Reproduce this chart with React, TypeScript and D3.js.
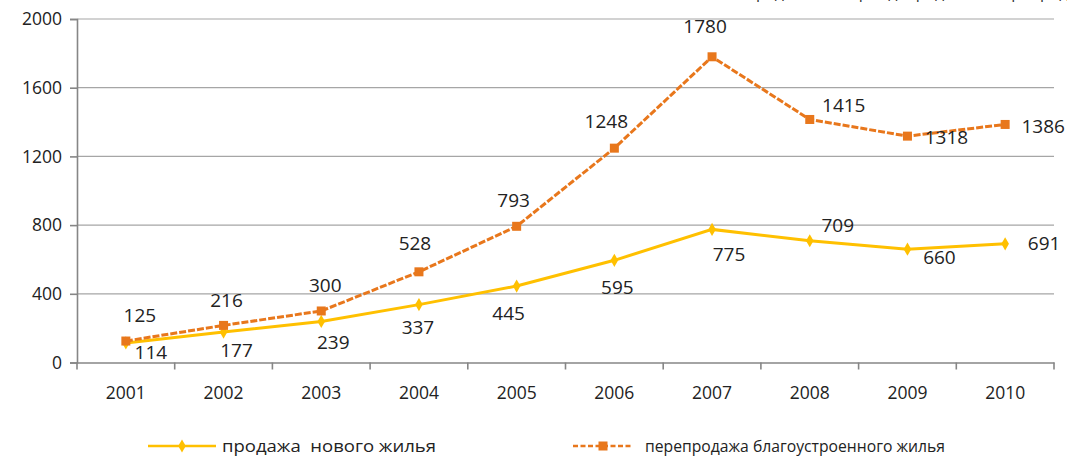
import { useEffect, useRef } from 'react'
import * as d3 from 'd3'

const years = ['2001', '2002', '2003', '2004', '2005', '2006', '2007', '2008', '2009', '2010']
const newSales = [114, 177, 239, 337, 445, 595, 775, 709, 660, 691]
const resales = [125, 216, 300, 528, 793, 1248, 1780, 1415, 1318, 1386]
const yTicks = [0, 400, 800, 1200, 1600, 2000]
const seriesNames = ['продажа  нового жилья', 'перепродажа благоустроенного жилья']

// label offsets from the marker, in px
const newOffsets: [number, number][] = [[25, 9], [13, 18], [12, 21], [-1, 23], [-8, 27], [3, 27], [17, 25], [28, -15], [32, 8], [39, 0]]
const resaleOffsets: [number, number][] = [[14, -26], [3, -25], [4, -26], [-4, -28], [-3, -26], [-8, -27], [-7, -30], [34, -14], [39, 1], [38, 2]]

const W = 1067
const H = 456
const YELLOW = '#FFC000'
const ORANGE = '#E8771C'
const FONT = '"Open Sans", "Liberation Sans", sans-serif'

export default function App() {
  const ref = useRef<SVGSVGElement>(null)

  useEffect(() => {
    const svg = d3.select(ref.current)
    svg.selectAll('*').remove()
    const left = 77, right = 1054, top = 19, bottom = 362.5

    const x = d3.scaleBand().domain(years).range([left, right])
    const cx = (d: string) => (x(d) || 0) + x.bandwidth() / 2
    const y = d3.scaleLinear().domain([0, 2000]).range([bottom, top])

    // title cut off at the top edge, as in the source image
    svg.append('text').attr('x', 735).attr('y', -2).attr('font-family', FONT).attr('font-size', 16)
      .attr('fill', '#333').text('в среднем за период, продажа и перепродажа')

    // gridlines
    svg.append('g').selectAll('line').data(yTicks.filter(t => t > 0)).join('line')
      .attr('x1', left).attr('x2', right).attr('y1', d => y(d)).attr('y2', d => y(d))
      .attr('stroke', '#a6a6a6').attr('stroke-width', 1.2)

    // y axis
    const ya = svg.append('g').attr('transform', `translate(${left},0)`)
      .call(d3.axisLeft(y).tickValues(yTicks).tickSize(7).tickPadding(8).tickFormat(d3.format('d')))
    ya.select('.domain').attr('stroke', '#868686').attr('stroke-width', 1.6)
    ya.selectAll('.tick line').attr('stroke', '#868686').attr('stroke-width', 1.6)
    ya.selectAll('.tick text').attr('font-family', FONT).attr('font-size', 17.5).attr('fill', '#222')

    // x axis
    const xa = svg.append('g').attr('transform', `translate(0,${bottom})`)
      .call(d3.axisBottom(x).tickSize(0).tickPadding(24))
    xa.select('.domain').attr('stroke', '#868686').attr('stroke-width', 1.6)
    xa.selectAll('.tick text').attr('font-family', FONT).attr('font-size', 17.5).attr('fill', '#222')
    svg.append('g').selectAll('line').data([...years.map(d => x(d) || 0), right]).join('line')
      .attr('x1', d => d).attr('x2', d => d).attr('y1', bottom).attr('y2', bottom + 7)
      .attr('stroke', '#868686').attr('stroke-width', 1.6)

    const line = d3.line<number>().x((_, i) => cx(years[i])).y(d => y(d))

    // new housing
    svg.append('path').datum(newSales).attr('d', line).attr('fill', 'none')
      .attr('stroke', YELLOW).attr('stroke-width', 3)
    const diamond = d3.symbol().type(d3.symbolDiamond).size(50)
    svg.append('g').selectAll('path').data(newSales).join('path')
      .attr('d', diamond).attr('transform', (d, i) => `translate(${cx(years[i])},${y(d)})`)
      .attr('fill', YELLOW)

    // resale
    svg.append('path').datum(resales).attr('d', line).attr('fill', 'none')
      .attr('stroke', ORANGE).attr('stroke-width', 3).attr('stroke-dasharray', '7,2')
    svg.append('g').selectAll('rect').data(resales).join('rect')
      .attr('x', (d, i) => cx(years[i]) - 4.5).attr('y', d => y(d) - 4.5)
      .attr('width', 9).attr('height', 9).attr('fill', ORANGE)

    // data labels
    const label = (vals: number[], offs: [number, number][]) =>
      svg.append('g').selectAll('text').data(vals).join('text')
        .attr('x', (d, i) => cx(years[i]) + offs[i][0])
        .attr('y', (d, i) => y(d) + offs[i][1])
        .attr('dy', '0.35em').attr('text-anchor', 'middle')
        .attr('font-family', FONT).attr('font-size', 19).attr('fill', '#222')
        .text(d => d)
    label(newSales, newOffsets)
    label(resales, resaleOffsets)

    // legend (condensed-looking text, like the source)
    const ly = 446
    const lg = svg.append('g')
    lg.append('line').attr('x1', 148).attr('x2', 216).attr('y1', ly).attr('y2', ly)
      .attr('stroke', YELLOW).attr('stroke-width', 2.5)
    lg.append('path').attr('d', diamond).attr('transform', `translate(182,${ly})`).attr('fill', YELLOW)
    lg.append('text').attr('x', 222).attr('y', ly).attr('dy', '0.35em').attr('font-family', FONT)
      .attr('font-size', 17).attr('fill', '#222').style('white-space', 'pre')
      .attr('textLength', 214).attr('lengthAdjust', 'spacingAndGlyphs').text(seriesNames[0])
    lg.append('line').attr('x1', 573).attr('x2', 633).attr('y1', ly).attr('y2', ly)
      .attr('stroke', ORANGE).attr('stroke-width', 2.5).attr('stroke-dasharray', '5,2.5')
    lg.append('rect').attr('x', 598.5).attr('y', ly - 4.5).attr('width', 9).attr('height', 9).attr('fill', ORANGE)
    lg.append('text').attr('x', 645).attr('y', ly).attr('dy', '0.35em').attr('font-family', FONT)
      .attr('font-size', 17).attr('fill', '#222')
      .attr('textLength', 300).attr('lengthAdjust', 'spacingAndGlyphs').text(seriesNames[1])
  }, [])

  return (
    <svg ref={ref} width={W} height={H}
      style={{ position: 'absolute', left: 0, top: 0, background: '#fff' }} />
  )
}
